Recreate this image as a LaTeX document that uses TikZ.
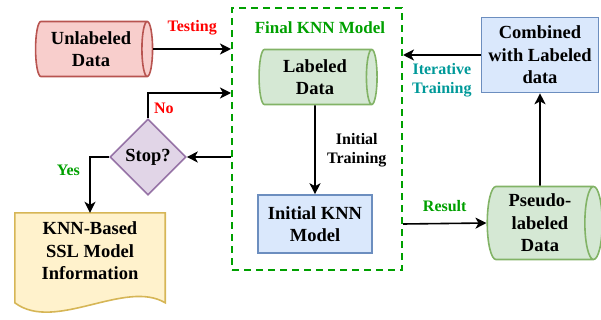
\documentclass[tikz,border=0pt]{standalone}
\usepackage{fontspec}
\setmainfont{Liberation Serif}
\usepackage{xcolor}
\usepackage{tikz}
\usetikzlibrary{shapes.geometric, arrows.meta, positioning, calc, backgrounds}

\definecolor{redfill}{HTML}{F8CECC}
\definecolor{redline}{HTML}{B85450}
\definecolor{greenfill}{HTML}{D5E8D4}
\definecolor{greenline}{HTML}{82B366}
\definecolor{bluefill}{HTML}{DAE8FC}
\definecolor{blueline}{HTML}{6C8EBF}
\definecolor{purplefill}{HTML}{E1D5E7}
\definecolor{purpleline}{HTML}{9673A6}
\definecolor{yellowfill}{HTML}{FFF2CC}
\definecolor{yellowline}{HTML}{D6B656}
\definecolor{boxgreen}{HTML}{00A000}
\definecolor{labelred}{HTML}{FF0000}
\definecolor{labelteal}{HTML}{009999}

\begin{document}
\begin{tikzpicture}[x=1pt, y=-1pt,
  txt/.style={font=\fontsize{18.5}{22.5}\selectfont\bfseries, align=center},
  lbl/.style={font=\fontsize{16}{19}\selectfont\bfseries, align=center},
  cyl/.style={txt, cylinder, aspect=0.3, line width=1.6pt, inner sep=0pt},
  box/.style={txt, rectangle, draw=blueline, fill=bluefill, line width=1.6pt},
  arr/.style={-{Stealth[length=11pt,width=11pt,inset=3pt]}, line width=1.6pt}
]
  \useasboundingbox (0,0) rectangle (601,320);

  % Dashed frame of the final model
  \node[draw=boxgreen, line width=2pt, dash pattern=on 7pt off 5pt,
        minimum width=170pt, minimum height=262pt] (final) at (317,139) {};
  \node[lbl, text=boxgreen, font=\fontsize{17}{20}\selectfont\bfseries] (finallbl) at (320,28) {Final KNN Model};

  % Data stores (cylinder: height runs along its axis)
  \node[cyl, draw=redline, fill=redfill, minimum height=117pt, minimum width=55pt] (unl) at (91,49) {Unlabeled\\Data};
  \node[cyl, draw=greenline, fill=greenfill, minimum height=118pt, minimum width=55pt] (lab) at (315,77) {Labeled\\Data};
  \node[cyl, draw=greenline, fill=greenfill, minimum height=115pt, minimum width=73pt] (pseudo) at (540,223) {Pseudo-\\labeled\\Data};

  % Process boxes
  \node[box, minimum width=114pt, minimum height=58pt] (init) at (315,224) {Initial KNN\\Model};
  \node[box, minimum width=117pt, minimum height=75pt] (comb) at (540,55) {Combined\\with Labeled\\data};

  % Decision
  \node[txt, diamond, aspect=1, draw=purpleline, fill=purplefill, line width=1.6pt,
        minimum size=76pt, inner sep=0pt] (stop) at (148,157) {Stop?};

  % Output document
  \node[txt, minimum width=150pt, minimum height=76pt] (info) at (90,251) {KNN-Based\\SSL Model\\Information};
  \begin{scope}[on background layer]
    \draw[draw=yellowline, fill=yellowfill, line width=1.6pt]
      (info.north west) -- (info.north east) -- ($(info.north east)+(0,90)$)
      .. controls +(-40,-24) and +(40,30) .. ($(info.north west)+(0,90)$) -- cycle;
  \end{scope}

  % Connectors
  \draw[arr] (unl.east) -- (unl.east -| final.west)
    node[lbl, text=labelred, midway, above=10pt] {Testing};
  \draw[arr] (lab.south) -- (init.north)
    node[lbl, midway, right=8pt] {Initial\\Training};
  \draw[arr] (final.east |- init) -- (pseudo.west)
    node[lbl, text=boxgreen, midway, above=8pt] {Result};
  \draw[arr] (pseudo.north) -- (comb.south);
  \draw[arr] (comb.west) -- (comb.west -| final.east)
    node[lbl, text=labelteal, midway, below=4pt] {Iterative\\Training};
  \draw[arr] (final.west |- stop) -- (stop.east);
  \draw[arr] (stop.north) |- (final.west |- 0,93)
    node[lbl, text=labelred, pos=0.2, right=2pt] {No};
  \draw[arr] (stop.west) -| (info.north)
    node[lbl, text=boxgreen, pos=0.62, left=6pt] {Yes};
\end{tikzpicture}
\end{document}
